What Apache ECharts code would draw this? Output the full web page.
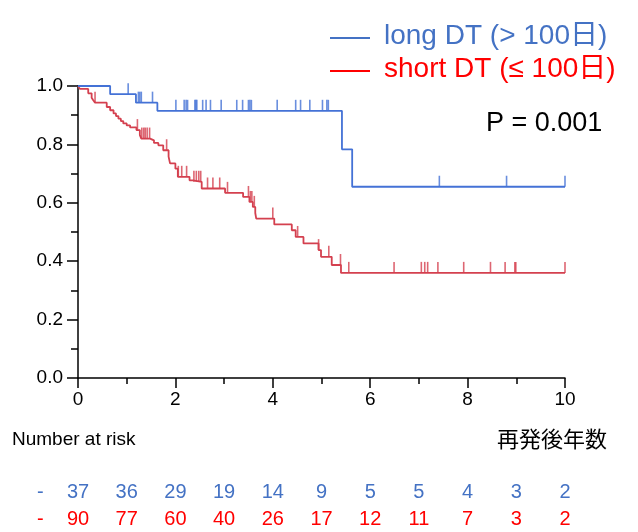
<!DOCTYPE html>
<html>
<head>
<meta charset="utf-8">
<script src="https://cdn.jsdelivr.net/npm/echarts@6/dist/echarts.min.js"></script>
<style>html,body{margin:0;padding:0;background:#fff}#c{width:638px;height:532px}</style>
</head>
<body>
<div id="c"></div>
<script>
// ---- data ----
var seriesNames = ['long DT (> 100日)', 'short DT (≤ 100日)'];
var longSteps = [[0,1],[0.66,0.972],[1.19,0.943],[1.63,0.915],[5.42,0.783],[5.63,0.655],[10,0.655]];
var longCensor = [1.03,1.24,1.27,1.30,1.53,2.01,2.18,2.22,2.25,2.40,2.42,2.44,2.56,2.63,2.72,2.94,3.26,3.38,3.50,3.53,3.56,4.09,4.47,4.57,4.76,5.02,5.11,5.14,7.42,8.80,10];
var shortSteps = [[0,1],[0.04,0.99],[0.21,0.975],[0.28,0.96],[0.31,0.952],[0.35,0.943],[0.59,0.928],[0.66,0.917],[0.73,0.906],[0.78,0.897],[0.83,0.888],[0.88,0.88],[0.93,0.872],[1.0,0.865],[1.07,0.858],[1.2,0.849],[1.27,0.832],[1.30,0.82],[1.48,0.814],[1.56,0.805],[1.65,0.797],[1.75,0.78],[1.86,0.758],[1.89,0.735],[2.0,0.717],[2.05,0.689],[2.29,0.677],[2.36,0.672],[2.54,0.649],[3.02,0.634],[3.39,0.62],[3.52,0.603],[3.59,0.586],[3.64,0.565],[3.66,0.546],[4.03,0.526],[4.39,0.506],[4.47,0.483],[4.63,0.461],[4.94,0.438],[4.99,0.415],[5.21,0.387],[5.40,0.36],[10,0.36]];
var shortCensor = [0.35,1.22,1.31,1.35,1.38,1.42,1.47,1.82,2.06,2.13,2.23,2.38,2.43,2.48,2.52,2.66,2.77,2.91,3.07,3.50,3.54,3.57,3.62,4.0,4.51,4.94,5.15,5.39,5.56,6.49,7.05,7.12,7.18,7.39,7.92,8.47,8.77,8.97,8.99,10];
var riskTimes = [0,1,2,3,4,5,6,7,8,9,10];
var longRisk = [37,36,29,19,14,9,5,5,4,3,2];
var shortRisk = [90,77,60,40,26,17,12,11,7,3,2];
var xTicks = [0,2,4,6,8,10];
var pText = 'P = 0.001';
var xTitle = '再発後年数';
var riskTitle = 'Number at risk';

var BLUE = '#4472d6', RED = '#d4404f', BLUE_T = '#4472c4', RED_T = '#ff0000';
var FONT = 'Liberation Sans, Arial, Noto Sans CJK JP, sans-serif';

function levelAt(steps, t) {
  var s = steps[0][1];
  for (var i = 0; i < steps.length; i++) { if (steps[i][0] <= t) s = steps[i][1]; }
  return s;
}
function censorData(steps, times) { return times.map(function (t) { return [t, levelAt(steps, t)]; }); }

var chart = echarts.init(document.getElementById('c'), null, {renderer: 'canvas'});
function riskAxis(arr, color, offset) {
  return {
    type: 'value', gridIndex: 0, min: 0, max: 10, interval: 1, position: 'bottom', offset: offset,
    axisLine: {show: false}, axisTick: {show: false}, splitLine: {show: false},
    axisLabel: {show: true, color: color, fontSize: 20, fontFamily: FONT, margin: 8, showMinLabel: true, showMaxLabel: true,
      formatter: function (v) { var i = riskTimes.indexOf(Math.round(v)); return i >= 0 ? String(arr[i]) : ''; }}
  };
}
chart.setOption({
  animation: false,
  backgroundColor: '#fff',
  grid: {left: 78, right: 73, top: 86, bottom: 154, containLabel: false, outerBoundsMode: 'none'},
  xAxis: [{
    type: 'value', min: 0, max: 10, interval: 2,
    axisLine: {lineStyle: {color: '#000', width: 1.5}},
    axisTick: {show: true, length: 10, lineStyle: {color: '#000', width: 1.5}},
    minorTick: {show: true, splitNumber: 2, length: 6, lineStyle: {color: '#000', width: 1.5}},
    splitLine: {show: false}, minorSplitLine: {show: false},
    axisLabel: {color: '#000', fontSize: 19, fontFamily: FONT, margin: 12,
      formatter: function (v) { return xTicks.indexOf(v) >= 0 ? String(v) : ''; }}
  }, riskAxis(longRisk, BLUE_T, 96), riskAxis(shortRisk, RED_T, 123)],
  yAxis: {
    type: 'value', min: 0, max: 1, interval: 0.2,
    axisLine: {show: true, lineStyle: {color: '#000', width: 1.5}},
    axisTick: {show: true, length: 11, lineStyle: {color: '#000', width: 1.5}},
    minorTick: {show: true, splitNumber: 2, length: 7, lineStyle: {color: '#000', width: 1.5}},
    splitLine: {show: false}, minorSplitLine: {show: false},
    axisLabel: {color: '#000', fontSize: 19, fontFamily: FONT, margin: 15, formatter: function (v) { return v.toFixed(1); }}
  },
  series: [
    {name: seriesNames[0], type: 'line', step: 'end', data: longSteps, symbol: 'none', lineStyle: {color: BLUE, width: 1.8}, z: 3, silent: true},
    {name: seriesNames[1], type: 'line', step: 'end', data: shortSteps, symbol: 'none', lineStyle: {color: RED, width: 1.8}, z: 2, silent: true},
    {type: 'scatter', data: censorData(longSteps, longCensor), symbol: 'rect', symbolSize: [1.6, 11], symbolOffset: [0, '-50%'], itemStyle: {color: BLUE}, silent: true, z: 3},
    {type: 'scatter', data: censorData(shortSteps, shortCensor), symbol: 'rect', symbolSize: [1.6, 11], symbolOffset: [0, '-50%'], itemStyle: {color: RED}, silent: true, z: 2}
  ],
  graphic: [
    {type: 'line', shape: {x1: 330, y1: 38, x2: 370, y2: 38}, style: {stroke: BLUE_T, lineWidth: 1.8}},
    {type: 'text', left: 384, top: 22, style: {text: seriesNames[0], fill: BLUE_T, font: '28px ' + FONT}},
    {type: 'line', shape: {x1: 330, y1: 71, x2: 370, y2: 71}, style: {stroke: RED_T, lineWidth: 1.8}},
    {type: 'text', left: 384, top: 55, style: {text: seriesNames[1], fill: RED_T, font: '28px ' + FONT}},
    {type: 'text', left: 486, top: 110, style: {text: pText, fill: '#000', font: '27px ' + FONT}},
    {type: 'text', left: 12, top: 430, style: {text: riskTitle, fill: '#000', font: '19px ' + FONT}},
    {type: 'text', left: 497, top: 428, style: {text: xTitle, fill: '#000', font: '22px Noto Sans CJK JP, sans-serif'}},
    {type: 'text', left: 37, top: 482, style: {text: '-', fill: BLUE_T, font: '20px ' + FONT}},
    {type: 'text', left: 37, top: 509, style: {text: '-', fill: RED_T, font: '20px ' + FONT}}
  ]
});
</script>
</body>
</html>
